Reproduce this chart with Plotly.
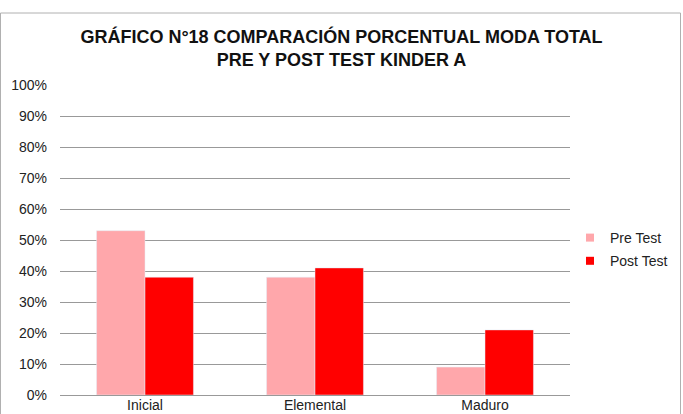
import plotly.graph_objects as go

categories = ["Inicial", "Elemental", "Maduro"]
pre_test = [0.53, 0.38, 0.09]
post_test = [0.38, 0.41, 0.21]
tick_vals = [0, 0.1, 0.2, 0.3, 0.4, 0.5, 0.6, 0.7, 0.8, 0.9, 1.0]
tick_text = ["0%", "10%", "20%", "30%", "40%", "50%", "60%", "70%", "80%", "90%", "100%"]
series_names = ["Pre Test", "Post Test"]
series_colors = ["#FFA7AB", "#FF0000"]

W, H = 683, 414
L, R, T, B = 60, 113, 85, 19
pw, ph = W - L - R, H - T - B

fig = go.Figure()
for name, vals, col in zip(series_names, [pre_test, post_test], series_colors):
    fig.add_trace(go.Bar(name=name, x=categories, y=vals, marker_color=col,
                         showlegend=False))
# legend entries with small square swatches
for i, (name, col) in enumerate(zip(series_names, series_colors)):
    fig.add_trace(go.Scatter(name=name, x=[None], y=[None], mode="markers",
                             marker=dict(symbol="square", size=8, color=col),
                             legendgroup=f"g{i}", showlegend=True))

def px_x(p):
    return (p - L) / pw

def px_y(p):
    return (H - B - p) / ph

fig.update_layout(
    width=W, height=H,
    margin=dict(l=L, r=R, t=T, b=B),
    paper_bgcolor="white", plot_bgcolor="white",
    barmode="group", bargap=0.43, bargroupgap=0,
    font=dict(family="Liberation Sans, Arial, sans-serif", size=14, color="#222"),
    title=dict(
        text="<b>GRÁFICO N°18 COMPARACIÓN PORCENTUAL MODA TOTAL<br>PRE Y POST TEST KINDER A</b>",
        x=0.5, xref="container", xanchor="center", y=1 - 43 / H, yanchor="middle",
        font=dict(size=18, color="#111"),
    ),
    xaxis=dict(showgrid=False, showline=True, linecolor="#999", ticks="",
               tickfont=dict(size=14), automargin=False, ticklabelstandoff=-3),
    yaxis=dict(range=[0, 1], tickvals=tick_vals, ticktext=tick_text,
               showgrid=True, gridcolor="#999", gridwidth=1, zeroline=False,
               showline=False, ticks="", tickfont=dict(size=14), automargin=False,
               ticklabelstandoff=12),
    legend=dict(xref="container", yref="container", x=570 / W, y=1 - 222 / H,
                xanchor="left", yanchor="top",
                font=dict(size=14), itemwidth=30, tracegroupgap=2,
                bgcolor="rgba(0,0,0,0)"),
    showlegend=True,
    shapes=[dict(type="rect", xref="paper", yref="paper",
                 x0=px_x(0.5), x1=px_x(680.5), y0=px_y(430), y1=px_y(13),
                 line=dict(color="#B0B0B0", width=1), layer="below")],
)

fig.write_html("out.html")
